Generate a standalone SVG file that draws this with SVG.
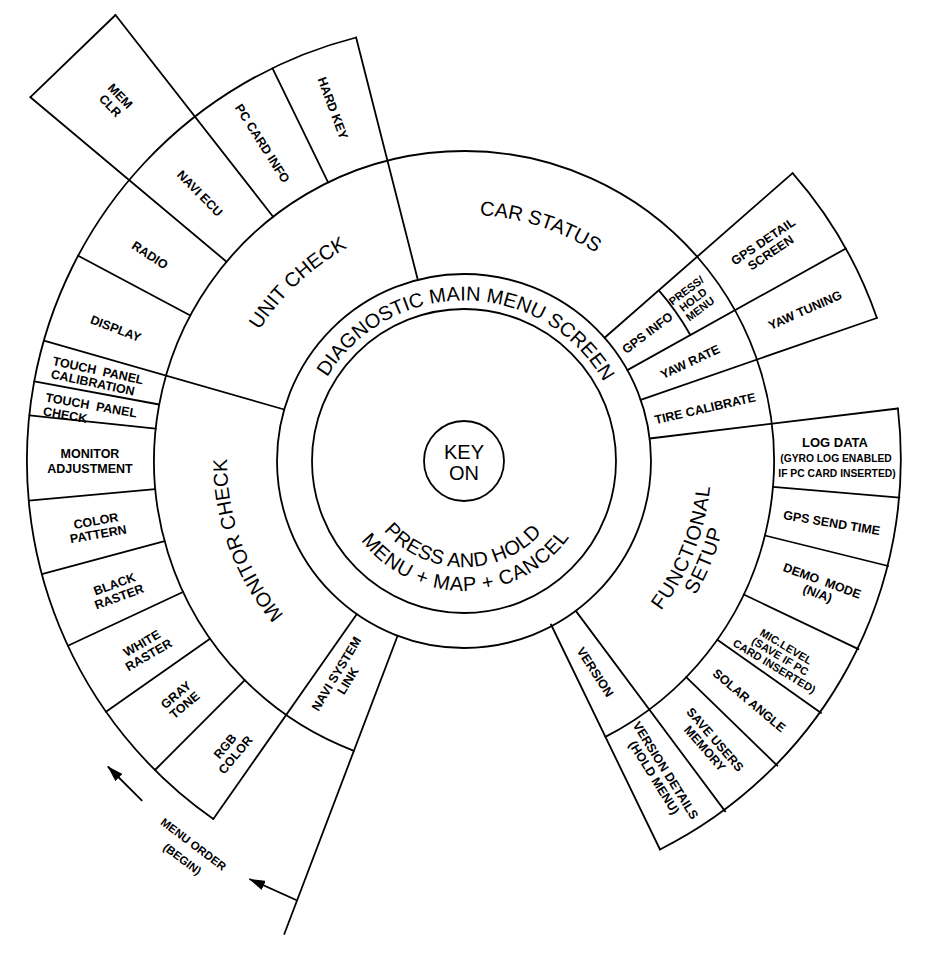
<svg xmlns="http://www.w3.org/2000/svg" width="944" height="954" viewBox="0 0 944 954">
<style>
.ln{fill:none;stroke:#000;stroke-width:1.8;stroke-linecap:round}
.cat{font-family:"Liberation Sans",Arial,sans-serif;font-size:20px;fill:#000}
.it{font-family:"Liberation Sans",Arial,sans-serif;font-weight:bold;font-size:12.5px;fill:#000;text-anchor:middle}
.sm{font-size:11px}
</style>
<defs>
<path id="pDiag" d="M305.9,433.1 A160.5,160.5 0 0 1 622.9,438.7"/>
<path id="pCar" d="M371.7,232.4 A246.5,246.5 0 0 1 673.0,330.4"/>
<path id="pUnit" d="M222.8,431.4 A243,243 0 0 1 451.3,218.3"/>
<path id="pMon" d="M345.5,666.2 A237,237 0 0 1 241.3,379.9"/>
<path id="pFunc" d="M582.1,678.5 A247.5,247.5 0 0 0 698.7,382.5"/>
<path id="pSetup" d="M587.9,698.1 A267.5,267.5 0 0 0 719.0,380.1"/>
<path id="pPress" d="M359.3,477.8 A106,106 0 0 0 568.1,481.0"/>
<path id="pMenu" d="M336.4,485.8 A130,130 0 0 0 592.4,481.3"/>
<marker id="ah" viewBox="0 0 16 10" refX="15" refY="5" markerWidth="16" markerHeight="10" markerUnits="userSpaceOnUse" orient="auto"><path d="M0,0 L16,5 L0,10 z" fill="#000"/></marker>
</defs>
<rect width="944" height="954" fill="#fff"/>
<g id="rings" class="ln">
<circle cx="464" cy="461" r="40"/>
<circle cx="464" cy="461" r="152"/>
<circle cx="464" cy="461" r="187"/>
<path d="M353.9,750.8 A310,310 0 1 1 605.4,736.9"/>
<path d="M213.3,819.0 A437,437 0 0 1 356.1,37.5"/>
<path d="M792.6,173.1 A437,437 0 0 1 876.9,318.0"/>
<path d="M897.9,408.5 A437,437 0 0 1 660,849.5"/>
<path d="M658.8,290.4 A259,259 0 0 1 690.3,335.0"/>
<path d="M30.4,97.2 L115.5,15.0"/>
</g>
<g id="connectors" class="ln">
<path d="M417.8,279.8 L356.1,37.5"/>
<path d="M328.1,182.4 L272.4,68.2"/>
<path d="M273.1,216.7 L115.5,15.0"/>
<path d="M226.5,261.7 L30.4,97.2"/>
<path d="M190.3,315.5 L78.2,255.8"/>
<path d="M284.2,409.5 L43.9,340.6"/>
<path d="M159.2,404.5 L34.3,381.4"/>
<path d="M155.7,428.6 L29.4,415.3"/>
<path d="M155.3,489.1 L28.8,500.6"/>
<path d="M164.6,541.2 L41.9,574.1"/>
<path d="M183.0,592.0 L67.9,645.7"/>
<path d="M210.0,638.8 L106.0,711.7"/>
<path d="M244.8,680.2 L155.0,770.0"/>
<path d="M356.7,614.2 L213.3,819.0"/>
<path d="M397.6,635.8 L284.3,934.0"/>
<path d="M551,624.5 L660,849.5"/>
<path d="M575.8,610.9 L725.2,811.4"/>
<path d="M686.2,677.1 L777.3,765.7"/>
<path d="M717.3,639.7 L821.1,712.9"/>
<path d="M743.8,594.5 L858.4,649.1"/>
<path d="M764.9,535.5 L888.2,566.0"/>
<path d="M772.9,486.9 L899.5,497.6"/>
<path d="M649.7,438.5 L897.9,408.5"/>
<path d="M640.7,399.8 L876.9,318.0"/>
<path d="M627.4,370.1 L845.9,248.5"/>
<path d="M604.6,337.8 L792.6,173.1"/>
<path d="M141.7,800.3 L108.3,767" marker-end="url(#ah)"/>
<path d="M296.7,900.3 L250,879.3" marker-end="url(#ah)"/>
</g>
<g id="center">
<text class="cat" font-size="22" text-anchor="middle" x="464" y="458.5">KEY</text>
<text class="cat" font-size="22" text-anchor="middle" x="464" y="479.5">ON</text>
</g>
<g id="diag"><text class="cat" font-size="21"><textPath href="#pDiag" startOffset="50%" text-anchor="middle">DIAGNOSTIC MAIN MENU SCREEN</textPath></text></g>
<g id="press"><text class="cat" font-size="16" letter-spacing="0.2"><textPath href="#pPress" startOffset="50%" text-anchor="middle">PRESS AND HOLD</textPath></text>
<text class="cat" font-size="18" letter-spacing="0.7"><textPath href="#pMenu" startOffset="50%" text-anchor="middle">MENU + MAP + CANCEL</textPath></text></g>
<g id="car-status"><text class="cat"><textPath href="#pCar" startOffset="50%" text-anchor="middle">CAR STATUS</textPath></text></g>
<g id="unit-check"><text class="cat" font-size="20.5"><textPath href="#pUnit" startOffset="50%" text-anchor="middle">UNIT CHECK</textPath></text></g>
<g id="monitor-check"><text class="cat"><textPath href="#pMon" startOffset="50%" text-anchor="middle">MONITOR CHECK</textPath></text></g>
<g id="functional-setup"><text class="cat" font-size="21" letter-spacing="0.8"><textPath href="#pFunc" startOffset="50%" text-anchor="middle">FUNCTIONAL</textPath></text>
<text class="cat" font-size="21" letter-spacing="1"><textPath href="#pSetup" startOffset="50%" text-anchor="middle">SETUP</textPath></text></g>
<g id="hard-key" transform="translate(333 108) rotate(69.6)"><text class="it" y="4.5">HARD KEY</text></g>
<g id="pc-card-info" transform="translate(262.5 143.3) rotate(57.6)"><text class="it" y="4.5">PC CARD INFO</text></g>
<g id="navi-ecu" transform="translate(200 193.3) rotate(45.4)"><text class="it" y="4.5">NAVI ECU</text></g>
<g id="mem-clr" transform="translate(115 101) rotate(46)"><text class="it" y="-3">MEM</text><text class="it" y="11">CLR</text></g>
<g id="radio" transform="translate(150 255) rotate(33)"><text class="it" y="4.5">RADIO</text></g>
<g id="display" transform="translate(115.8 328.3) rotate(21)"><text class="it" y="4.5">DISPLAY</text></g>
<g id="tp-calibration" transform="translate(52 365) rotate(12)"><text class="it" xml:space="preserve" style="text-anchor:start">TOUCH  PANEL</text><text class="it" x="1" y="13" style="text-anchor:start">CALIBRATION</text></g>
<g id="tp-check" transform="translate(45 401.5) rotate(10)"><text class="it" xml:space="preserve" style="text-anchor:start">TOUCH  PANEL</text><text class="it" y="14" style="text-anchor:start">CHECK</text></g>
<g id="monitor-adjustment"><text class="it" x="90" y="458">MONITOR</text><text class="it" x="90" y="473">ADJUSTMENT</text></g>
<g id="color-pattern" transform="translate(97 527) rotate(-10)"><text class="it" y="-2">COLOR</text><text class="it" y="11.5">PATTERN</text></g>
<g id="black-raster" transform="translate(116.7 590) rotate(-20)"><text class="it" y="-2">BLACK</text><text class="it" y="11.5">RASTER</text></g>
<g id="white-raster" transform="translate(145 648.7) rotate(-30)"><text class="it" y="-2">WHITE</text><text class="it" y="11.5">RASTER</text></g>
<g id="gray-tone" transform="translate(180 699.7) rotate(-40)"><text class="it" y="-2">GRAY</text><text class="it" y="11.5">TONE</text></g>
<g id="rgb-color" transform="translate(230 750.3) rotate(-50)"><text class="it" y="-2">RGB</text><text class="it" y="11.5">COLOR</text></g>
<g id="navi-system-link" transform="translate(341.7 677) rotate(-59)"><text class="it" y="-2">NAVI SYSTEM</text><text class="it" y="11.5">LINK</text></g>
<g id="gps-info" transform="translate(647.3 332.7) rotate(-37)"><text class="it" y="4.5">GPS INFO</text></g>
<g id="press-hold-menu" transform="translate(693.3 300) rotate(-37)"><text class="it sm" y="-8">PRESS/</text><text class="it sm" y="3.5">HOLD</text><text class="it sm" y="15">MENU</text></g>
<g id="gps-detail" transform="translate(766.7 246.7) rotate(-34)"><text class="it" y="-2">GPS DETAIL</text><text class="it" y="11.5">SCREEN</text></g>
<g id="yaw-rate" transform="translate(690 361.7) rotate(-25)"><text class="it" y="4.5">YAW RATE</text></g>
<g id="yaw-tuning" transform="translate(805 310) rotate(-24)"><text class="it" y="4.5">YAW TUNING</text></g>
<g id="tire-calibrate" transform="translate(705 408.3) rotate(-13)"><text class="it" y="4.5">TIRE CALIBRATE</text></g>
<g id="log-data"><text class="it" x="835" y="446.5" style="font-size:13px">LOG DATA</text><text class="it" x="836" y="461.5" style="font-size:10.3px">(GYRO LOG ENABLED</text><text class="it" x="837" y="476.5" style="font-size:10.3px">IF PC CARD INSERTED)</text></g>
<g id="gps-send-time" transform="translate(831.7 522.7) rotate(9.5)"><text class="it" y="4.5">GPS SEND TIME</text></g>
<g id="demo-mode" transform="translate(820 586.7) rotate(20)"><text class="it" y="-2" xml:space="preserve">DEMO  MODE</text><text class="it" y="11.5">(N/A)</text></g>
<g id="mic-level" transform="translate(780 656.7) rotate(31)"><text class="it sm" y="-8">MIC.LEVEL</text><text class="it sm" y="3.5">(SAVE IF PC</text><text class="it sm" y="15">CARD INSERTED)</text></g>
<g id="solar-angle" transform="translate(749.3 700.3) rotate(40)"><text class="it" y="4.5">SOLAR ANGLE</text></g>
<g id="save-users" transform="translate(710.3 743.7) rotate(49)"><text class="it" y="-2">SAVE USERS</text><text class="it" y="11.5">MEMORY</text></g>
<g id="version" transform="translate(595.3 672) rotate(57)"><text class="it" y="4.5">VERSION</text></g>
<g id="version-details" transform="translate(660.3 773.7) rotate(58)"><text class="it" y="-2">VERSION DETAILS</text><text class="it" y="11.5">(HOLD MENU)</text></g>
<g id="menu-order" transform="translate(188 851.5) rotate(37)"><text class="it" style="font-size:11.5px" y="-5">MENU ORDER</text><text class="it" style="font-size:11.5px" y="13.5">(BEGIN)</text></g>
</svg>
